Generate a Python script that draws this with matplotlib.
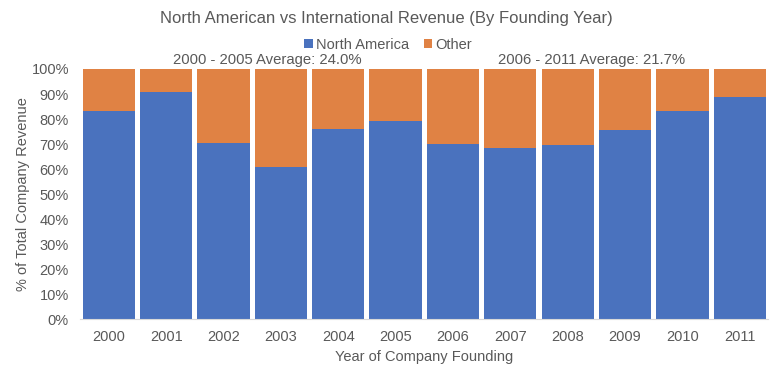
import matplotlib.pyplot as plt
from matplotlib.ticker import PercentFormatter

plt.rcParams['font.family'] = ['Liberation Sans', 'DejaVu Sans']

years = ['2000', '2001', '2002', '2003', '2004', '2005',
         '2006', '2007', '2008', '2009', '2010', '2011']
north_america = [83.2, 90.8, 70.4, 60.8, 76.0, 79.2, 70.0, 68.4, 69.6, 75.6, 83.2, 88.8]
other = [100 - v for v in north_america]
avg_labels = ['2000 - 2005 Average: 24.0%', '2006 - 2011 Average: 21.7%']

blue = '#4a72be'
orange = '#e08244'
grey = '#595959'

fig = plt.figure(figsize=(7.7, 3.75), dpi=100)
ax = fig.add_axes([0.104, 0.149, 0.894, 0.667])

x = range(len(years))
ax.bar(x, north_america, width=0.91, color=blue, label='North America')
ax.bar(x, other, width=0.91, bottom=north_america, color=orange, label='Other')

ax.set_xlim(-0.5, len(years) - 0.5)
ax.set_ylim(0, 100)
ax.set_yticks(range(0, 101, 10))
ax.yaxis.set_major_formatter(PercentFormatter(decimals=0))
ax.set_xticks(list(x))
ax.set_xticklabels(years)
ax.tick_params(colors=grey, labelsize=10.5, length=0, pad=8)
for s in ['top', 'right', 'left']:
    ax.spines[s].set_visible(False)
ax.spines['bottom'].set_color('#d9d9d9')

ax.set_xlabel('Year of Company Founding', color=grey, fontsize=10.5, labelpad=4)
ax.set_ylabel('% of Total Company Revenue', color=grey, fontsize=10.5, labelpad=1)

# title, legend and average notes sit above the plot
fig.text(0.502, 0.952, 'North American vs International Revenue (By Founding Year)',
         ha='center', va='center', color=grey, fontsize=12)
fig.legend(loc='center', bbox_to_anchor=(0.504, 0.88), ncol=2, frameon=False,
           fontsize=10.5, labelcolor=grey, handlelength=0.6, handleheight=0.6,
           handletextpad=0.2, columnspacing=1.0)

fig.text(0.347, 0.84, avg_labels[0], ha='center', va='center', color=grey, fontsize=10.7)
fig.text(0.768, 0.84, avg_labels[1], ha='center', va='center', color=grey, fontsize=10.7)

fig.savefig('out.png', dpi=100)
